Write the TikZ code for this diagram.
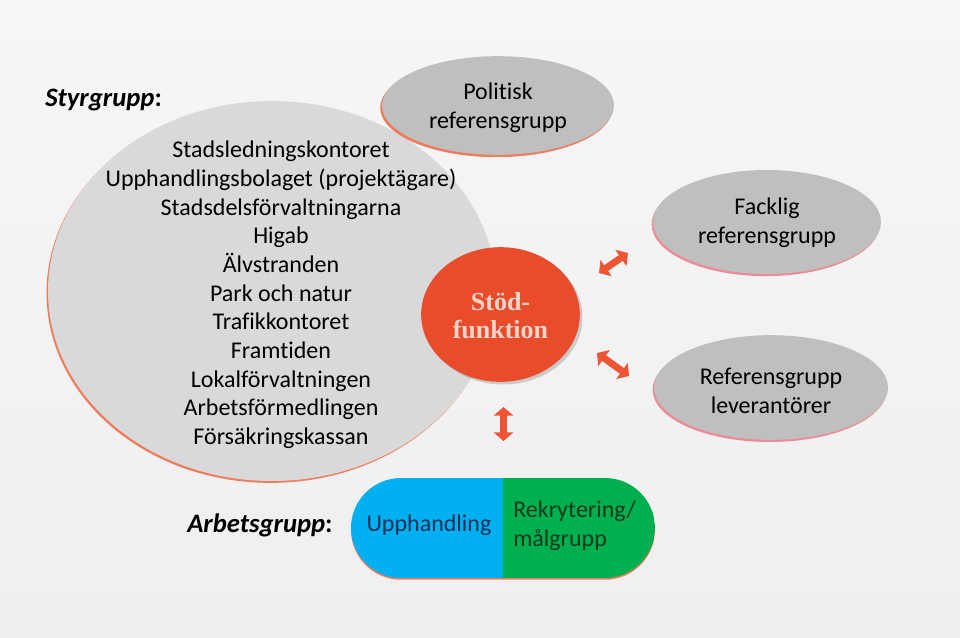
\documentclass[tikz,border=0pt]{standalone}
\usepackage{fontspec}
\setmainfont[Ligatures=NoCommon]{Carlito}
\newfontfamily\stodfont{Liberation Serif}
\usetikzlibrary{shapes.geometric,arrows.meta,shadows}
\definecolor{bgtop}{HTML}{F6F6F6}
\definecolor{bgbot}{HTML}{EFEFEF}
\definecolor{biggray}{HTML}{D9D9D9}
\definecolor{refgray}{HTML}{BFBFBF}
\definecolor{stodred}{HTML}{E84C2B}
\definecolor{stodtext}{HTML}{F6D6CA}
\definecolor{arrowred}{HTML}{EE5535}
\definecolor{edgeor}{HTML}{F07A5A}
\definecolor{edgepink}{HTML}{EE8A95}
\definecolor{pillblue}{HTML}{00B0F0}
\definecolor{pillgreen}{HTML}{00B050}
\definecolor{bluetext}{HTML}{13305A}
\definecolor{greentext}{HTML}{0B3A1A}
\tikzset{
  txt/.style={font=\fontsize{18}{21.5}\selectfont, text=black, align=center, inner sep=0pt},
  refell/.style={ellipse, fill=refgray, inner sep=0pt,
    general shadow={fill=edgepink, shadow xshift=-1pt, shadow yshift=-1.6pt}},
  biarrow/.style={draw=arrowred, line width=5.2pt,
    {Triangle[width=14.5pt,length=6.5pt]}-{Triangle[width=14.5pt,length=6.5pt]}},
  grouplabel/.style={font=\fontsize{20}{24}\selectfont\bfseries\itshape, anchor=west, inner sep=0pt}
}
\begin{document}
\begin{tikzpicture}[x=0.75pt,y=-0.75pt]
\useasboundingbox (0,0) rectangle (960,637);
\shade[top color=bgtop, bottom color=bgbot] (0,0) rectangle (960,637);

% big ellipse (Styrgrupp)
\node[ellipse, fill=biggray, inner sep=0pt, minimum width=336pt, minimum height=285pt,
  general shadow={fill=edgeor, shadow xshift=-1.1pt, shadow yshift=-1.4pt}] (big) at (272,291) {};
\node[txt] (members) at (281,295) {Stadsledningskontoret\\ Upphandlingsbolaget (projektägare)\\ Stadsdelsförvaltningarna\\ Higab\\ Älvstranden\\ Park och natur\\ Trafikkontoret\\ Framtiden\\ Lokalförvaltningen\\ Arbetsförmedlingen\\ Försäkringskassan};

\node[grouplabel] (styr) at (45,100) {Styrgrupp\upshape:};

% reference groups
\node[refell, minimum width=174pt, minimum height=74pt,
  general shadow={fill=edgeor, shadow xshift=-1.3pt, shadow yshift=-1.6pt}] (pol) at (498,105.5) {};
\node[txt] (poltxt) at (498,107.5) {Politisk\\ referensgrupp};

\node[refell, minimum width=171pt, minimum height=78pt] (fack) at (767,222) {};
\node[txt] (facktxt) at (767,222.5) {Facklig\\ referensgrupp};

\node[refell, minimum width=175.5pt, minimum height=78.5pt] (lev) at (771,387.5) {};
\node[txt] (levtxt) at (771,391) {Referensgrupp\\ leverantörer};

% Stödfunktion
\node[ellipse, fill=stodred, inner sep=0pt, minimum width=119pt, minimum height=101pt,
  drop shadow={fill=black!50, opacity=0.35, shadow xshift=2pt, shadow yshift=-2pt}] (stod) at (500.5,314.5) {};
\node[font=\stodfont\bfseries\fontsize{19.5}{21}\selectfont, text=stodtext, align=center, inner sep=0pt] (stodtxt) at (500.5,316) {Stöd-\\ funktion};

% arrows
\coordinate (a1s) at (599,273);
\coordinate (a1e) at (628,253);
\coordinate (a2s) at (597,353);
\coordinate (a2e) at (629,376);
\coordinate (a3s) at (503.5,407);
\coordinate (a3e) at (503.5,441);
\draw[biarrow] (a1s) -- (a1e);
\draw[biarrow] (a2s) -- (a2e);
\draw[biarrow] (a3s) -- (a3e);

% Arbetsgrupp pill
\node[grouplabel] (arb) at (187,525) {Arbetsgrupp\upshape:};
\node[rectangle, rounded corners=37.5pt, minimum width=228pt, minimum height=75pt, inner sep=0pt,
  general shadow={fill=edgeor, shadow yshift=-1.3pt},
  path picture={
    \fill[pillblue, sharp corners] (path picture bounding box.south west) rectangle (path picture bounding box.north);
    \fill[pillgreen, sharp corners] (path picture bounding box.south) rectangle (path picture bounding box.north east);
  }] (pill) at (503,528) {};
\node[txt, text=bluetext] (upph) at (429,525) {Upphandling};
\node[txt, text=greentext, align=left, anchor=west] (rekr) at (513,526) {Rekrytering/\\ målgrupp};
\end{tikzpicture}
\end{document}
